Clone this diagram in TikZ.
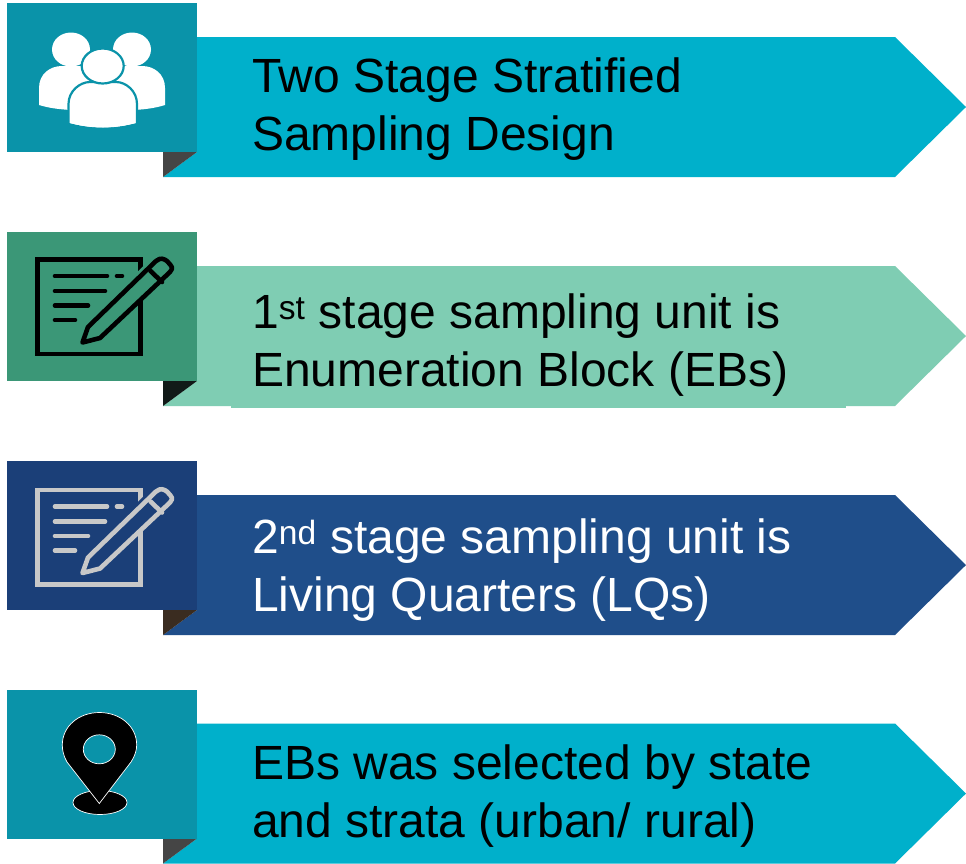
\documentclass[tikz,border=0pt]{standalone}
\usepackage{fontspec}
\setmainfont{Liberation Sans}
\definecolor{tabA}{HTML}{0A93A9}
\definecolor{bodyA}{HTML}{00B0CB}
\definecolor{foldA}{HTML}{454545}
\definecolor{tabB}{HTML}{3B9777}
\definecolor{bodyB}{HTML}{7FCDB3}
\definecolor{foldB}{HTML}{111A18}
\definecolor{tabC}{HTML}{1B3F78}
\definecolor{bodyC}{HTML}{1F4E8A}
\definecolor{foldC}{HTML}{3A2C20}
\definecolor{iconC}{HTML}{C8C8C8}
\tikzset{
  bannertext/.style={anchor=west,align=left,inner sep=0pt,
    font=\fontsize{48}{57.5}\selectfont},
}
\newcommand{\banner}[4]{% top of tab, tab colour, body colour, fold colour
  \begin{scope}[yshift=-#1pt]
    \fill[#3] (163,174) -- (197,149) -- (197,34) -- (895,34) -- (966,104) -- (895,174) -- cycle;
    \fill[#4] (163,149) -- (197,149) -- (163,174) -- cycle;
    \fill[#2] (7,0) rectangle (197,149);
  \end{scope}}
\newcommand{\writeicon}[3]{% y shift, ink colour, tab colour
  \begin{scope}[yshift=-#1pt,line cap=round,line join=round]
    \draw[#2,line width=4.6pt,line join=miter,line cap=butt] (37.5,259.5) rectangle (140.5,354);
    \draw[#2,line width=4.6pt] (55,276) -- (107,276) (117,276) -- (122,276)
      (55,291) -- (105,291) (55,305.5) -- (88,305.5) (55,320) -- (75,320);
    \draw[#3,line width=10pt] (87,327) -- (158,259);
    \draw[#2,fill=#3,line width=4.6pt]
      (82.5,342.5) -- (88,327) -- (156,261) .. controls (161,257) and (164,259) .. (167,261)
      -- (170.5,265) .. controls (173,268) and (172,270) .. (170,272)
      -- (100,338) -- cycle;
    \draw[#2,line width=4.6pt] (150.5,271) -- (162,282);
  \end{scope}}
\begin{document}
\begin{tikzpicture}[x=1pt,y=-1pt]
\useasboundingbox (0,0) rectangle (966,863);
\fill[white] (0,0) rectangle (966,863);

% banner 1
\banner{3}{tabA}{bodyA}{foldA}
\begin{scope}
  \fill[white] (71,49.5) ellipse [x radius=19,y radius=17];
  \fill[white] (132,49.5) ellipse [x radius=19,y radius=17];
  \fill[white] (39,105) -- (39,88) .. controls (39,74) and (50,66) .. (62,66)
    -- (142,66) .. controls (154,66) and (165,74) .. (165,88) -- (165,105)
    .. controls (155,108) and (148,109) .. (135,110) -- (70,110)
    .. controls (57,109) and (49,108) .. (39,105) -- cycle;
  \fill[white,draw=tabA,line width=2.2pt] (68.5,124) -- (68.5,104)
    .. controls (68.5,91) and (80,82) .. (90,82) -- (116,82)
    .. controls (126,82) and (137,91) .. (137,104) -- (137,124)
    .. controls (115,130) and (90,130) .. (68.5,124) -- cycle;
  \fill[white] (71,123) -- (135,123) .. controls (115,129) and (91,129) .. (71,123) -- cycle;
  \fill[white,draw=tabA,line width=2.2pt] (102.7,66) ellipse [x radius=21,y radius=17.5];
\end{scope}
\node[bannertext,text=black] (t1) at (252,109) {Two Stage Stratified\\Sampling Design};

% banner 2
\banner{232}{tabB}{bodyB}{foldB}
\fill[bodyB] (231,395) rectangle (846,408);
\writeicon{0}{black}{tabB}
\node[bannertext,text=black] (t2) at (252,345) {1\textsuperscript{st} stage sampling unit is\\Enumeration Block (EBs)};

% banner 3
\banner{461}{tabC}{bodyC}{foldC}
\writeicon{230.5}{iconC}{tabC}
\node[bannertext,text=white] (t3) at (252,570) {2\textsuperscript{nd} stage sampling unit is\\Living Quarters (LQs)};

% banner 4
\banner{689.5}{tabA}{bodyA}{foldA}
\fill[black,draw=white,line width=0.7pt] (100,802.5) ellipse [x radius=27,y radius=12];
\fill[black,draw=white,line width=0.7pt]
  (99.3,803.5) -- (67,762) .. controls (63.5,756) and (62.3,750) .. (62.3,745)
  .. controls (62.3,726) and (79,712.5) .. (99.4,712.5)
  .. controls (120,712.5) and (136.7,726) .. (136.7,745)
  .. controls (136.7,750) and (135,756) .. (131,762) -- cycle;
\fill[tabA,draw=white,line width=0.7pt] (99.3,749.3) ellipse [x radius=16,y radius=14.5];
\node[bannertext,text=black] (t4) at (252,796) {EBs was selected by state\\and strata (urban/ rural)};
\end{tikzpicture}
\end{document}
